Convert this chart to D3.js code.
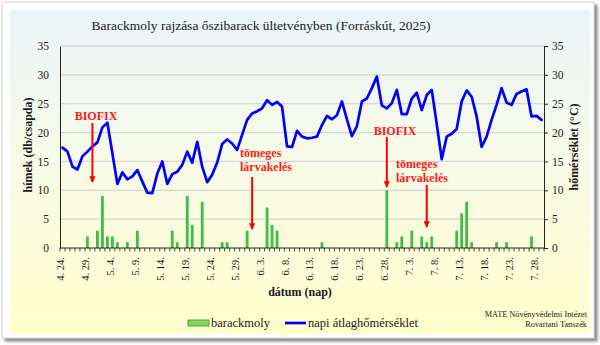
<!DOCTYPE html>
<html>
<head>
<meta charset="utf-8">
<script src="https://cdnjs.cloudflare.com/ajax/libs/d3/7.8.5/d3.min.js"></script>
<style>
  body { margin: 0; background: #fff; }
  svg { display: block; }
  text { font-family: "Liberation Serif", "Times New Roman", serif; fill: #1a1a1a; }
</style>
</head>
<body>
<svg id="chart" width="600" height="345"></svg>
<script>
// Daily categories: 24 April – 29 July 2025
const days = d3.timeDay.range(new Date(2025, 3, 24), new Date(2025, 6, 30));

// Peach twig borer males caught per trap per day
const moths = [
  0, 0, 0, 0, 0, 2, 0, 3, 9, 2,
  2, 1, 0, 1, 0, 3, 0, 0, 0, 0,
  0, 0, 3, 1, 0, 9, 4, 0, 8, 0,
  0, 0, 1, 1, 0, 0, 0, 3, 0, 0,
  0, 7, 4, 3, 0, 0, 0, 0, 0, 0,
  0, 0, 1, 0, 0, 0, 0, 0, 0, 0,
  0, 0, 0, 0, 0, 10, 0, 1, 2, 0,
  3, 0, 2, 1, 2, 0, 0, 0, 0, 3,
  6, 8, 1, 0, 0, 0, 0, 1, 0, 1,
  0, 0, 0, 0, 2, 0, 0
];

// Daily mean temperature (°C)
const temps = [
  17.4, 16.7, 14.1, 13.6, 15.9, 16.7, 17.6, 18.3, 20.9, 21.7,
  16.4, 11.1, 13.1, 11.9, 12.4, 13.5, 11.5, 9.6, 9.5, 12.9,
  15.0, 11.1, 12.8, 13.2, 14.4, 16.7, 14.8, 18.4, 14.1, 11.4,
  12.7, 14.8, 18.0, 18.8, 18.1, 17.0, 19.6, 22.2, 23.3, 23.7,
  24.2, 25.6, 24.8, 25.3, 24.5, 17.6, 17.5, 20.3, 19.3, 19.0,
  19.1, 19.3, 21.3, 22.9, 22.3, 23.0, 25.4, 22.3, 19.4, 21.1,
  25.4, 25.9, 27.7, 29.7, 24.7, 24.2, 25.1, 27.4, 23.2, 23.2,
  25.9, 26.9, 23.9, 26.5, 27.4, 21.5, 15.4, 19.3, 19.8, 20.6,
  25.4, 27.3, 26.2, 22.8, 17.5, 19.3, 22.2, 24.8, 27.7, 25.2,
  24.8, 26.7, 27.1, 27.5, 22.8, 22.9, 22.2
];

const yTicks = [0, 5, 10, 15, 20, 25, 30, 35];

// Event annotations: day index, label lines
const events = [
  { day: new Date(2025, 3, 30), lines: ["BIOFIX"] },
  { day: new Date(2025, 5, 1),  lines: ["tömeges", "lárvakelés"] },
  { day: new Date(2025, 5, 28), lines: ["BIOFIX"] },
  { day: new Date(2025, 6, 6),  lines: ["tömeges", "lárvakelés"] }
];

const fmt = d3.timeFormat("%-m. %-d.");
const svg = d3.select("#chart");

const x = d3.scaleBand().domain(days.map(d => +d)).range([60, 544]).padding(0);
const cx = d => x(+d) + x.bandwidth() / 2;
const y = d3.scaleLinear().domain([0, 35]).range([248, 46]);

// ---- defs: background gradient, frame shadow, arrow head
const defs = svg.append("defs");
const grad = defs.append("linearGradient").attr("id", "bg").attr("x1", 0).attr("x2", 0).attr("y1", 0).attr("y2", 1);
grad.append("stop").attr("offset", "0%").attr("stop-color", "#e9f4f7");
grad.append("stop").attr("offset", "40%").attr("stop-color", "#f6faea");
grad.append("stop").attr("offset", "100%").attr("stop-color", "#ffffcc");

const sh = defs.append("filter").attr("id", "shadow").attr("x", "-5%").attr("y", "-5%").attr("width", "110%").attr("height", "115%");
sh.append("feDropShadow").attr("dx", 3).attr("dy", 3).attr("stdDeviation", 1.8).attr("flood-color", "#555").attr("flood-opacity", 0.7);

defs.append("marker").attr("id", "head").attr("viewBox", "0 0 10 10")
  .attr("refX", 9).attr("refY", 5).attr("markerWidth", 3.2).attr("markerHeight", 3.2)
  .attr("orient", "auto")
  .append("path").attr("d", "M0,0 L10,5 L0,10 Z").attr("fill", "#ff0000");

// ---- frame and panel
svg.append("rect").attr("x", 2).attr("y", 2).attr("width", 592).attr("height", 336)
  .attr("fill", "#fff").attr("stroke", "#cfcfcf").attr("filter", "url(#shadow)");
svg.append("rect").attr("x", 10).attr("y", 10).attr("width", 580).attr("height", 324).attr("fill", "url(#bg)");

// ---- title
svg.append("text").attr("x", 261).attr("y", 30).attr("text-anchor", "middle")
  .attr("font-size", 13.5).text("Barackmoly rajzása őszibarack ültetvényben (Forráskút, 2025)");

// ---- gridlines
svg.append("g").selectAll("line").data(yTicks.filter(v => v > 0)).join("line")
  .attr("x1", 60).attr("x2", 544).attr("y1", d => y(d)).attr("y2", d => y(d))
  .attr("stroke", "#d6d6d6").attr("stroke-width", 1.3);

// ---- bars
svg.append("g").selectAll("rect").data(days.map((d, i) => ({ d, v: moths[i] })).filter(o => o.v > 0)).join("rect")
  .attr("x", o => cx(o.d) - 1.4).attr("width", 2.8)
  .attr("y", o => y(o.v)).attr("height", o => y(0) - y(o.v))
  .attr("fill", "#3fbd4c");

// ---- temperature line
const line = d3.line().x((t, i) => cx(days[i])).y(t => y(t));
svg.append("path").datum(temps).attr("d", line)
  .attr("fill", "none").attr("stroke", "#0000ff").attr("stroke-width", 2.7)
  .attr("stroke-linejoin", "round").attr("stroke-linecap", "round");

// ---- left axis
const gl = svg.append("g").attr("transform", "translate(60,0)")
  .call(d3.axisLeft(y).tickValues(yTicks).tickSize(0).tickPadding(11));
gl.select(".domain").attr("stroke", "#222");
gl.selectAll("text").attr("font-size", 11.5).attr("font-family", "Liberation Serif").attr("fill", "#222");

// ---- right axis
const gr = svg.append("g").attr("transform", "translate(544,0)")
  .call(d3.axisRight(y).tickValues(yTicks).tickSize(4).tickSizeOuter(0).tickPadding(4));
gr.select(".domain").attr("stroke", "#222");
gr.selectAll("line").attr("stroke", "#222");
gr.selectAll("text").attr("font-size", 11.5).attr("font-family", "Liberation Serif").attr("fill", "#222");

// ---- category axis: ticks between days, label every fifth day
const gx = svg.append("g");
gx.append("line").attr("x1", 60).attr("x2", 544).attr("y1", 248).attr("y2", 248).attr("stroke", "#222");
const bounds = days.map(d => x(+d)).concat([x(+days[days.length - 1]) + x.bandwidth()]);
gx.selectAll("line.t").data(bounds).join("line").attr("class", "t")
  .attr("x1", d => d).attr("x2", d => d).attr("y1", 248).attr("y2", 251.5)
  .attr("stroke", "#222").attr("stroke-width", 0.8);
const labelDays = days.filter((d, i) => i % 5 === 0);
gx.selectAll("text").data(labelDays).join("text")
  .attr("transform", d => `translate(${cx(d) + 1.5},257) rotate(-90)`)
  .attr("text-anchor", "end").attr("font-size", 10.5).attr("fill", "#222")
  .text(d => fmt(d));

// ---- axis titles
svg.append("text").attr("transform", "translate(32,145) rotate(-90)").attr("text-anchor", "middle")
  .attr("font-size", 12).attr("font-weight", "bold").text("hímek (db/csapda)");
svg.append("text").attr("transform", "translate(578,147) rotate(-90)").attr("text-anchor", "middle")
  .attr("font-size", 12).attr("font-weight", "bold").text("hőmérséklet (°C)");
svg.append("text").attr("x", 300).attr("y", 296).attr("text-anchor", "middle")
  .attr("font-size", 12).attr("font-weight", "bold").text("dátum (nap)");

// ---- event annotations
const annot = [
  { ev: events[0], textX: 96, anchor: "middle", base: 119.5, y1: 123, y2: 182 },
  { ev: events[1], textX: 240, anchor: "start", base: 157, y1: 177, y2: 229 },
  { ev: events[2], textX: 395, anchor: "middle", base: 134.5, y1: 137, y2: 187 },
  { ev: events[3], textX: 396, anchor: "start", base: 168, y1: 185, y2: 227 }
];
annot.forEach(a => {
  const ax = cx(a.ev.day);
  svg.append("line").attr("x1", ax).attr("x2", ax).attr("y1", a.y1).attr("y2", a.y2)
    .attr("stroke", "#ff0000").attr("stroke-width", 2).attr("marker-end", "url(#head)");
  a.ev.lines.forEach((t, k) => {
    svg.append("text").attr("x", a.textX).attr("y", a.base + k * 14)
      .attr("text-anchor", a.anchor).attr("font-size", 12).attr("font-weight", "bold")
      .attr("fill", "#ff0000").style("fill", "#ff1a1a").text(t);
  });
});

// ---- legend
const lg = svg.append("g");
lg.append("rect").attr("x", 188).attr("y", 320).attr("width", 21).attr("height", 6)
  .attr("fill", "#8fd064").attr("stroke", "#3fa44a").attr("stroke-width", 1);
lg.append("text").attr("x", 211).attr("y", 327).attr("font-size", 12.5).text("barackmoly");
lg.append("line").attr("x1", 285).attr("x2", 306).attr("y1", 323).attr("y2", 323)
  .attr("stroke", "#0000ff").attr("stroke-width", 2.7);
lg.append("text").attr("x", 308).attr("y", 327).attr("font-size", 12.5).text("napi átlaghőmérséklet");

// ---- source
svg.append("text").attr("x", 587).attr("y", 317).attr("text-anchor", "end").attr("font-size", 8.3).text("MATE Növényvédelmi Intézet");
svg.append("text").attr("x", 587).attr("y", 327).attr("text-anchor", "end").attr("font-size", 8.3).text("Rovartani Tanszék");
</script>
</body>
</html>
